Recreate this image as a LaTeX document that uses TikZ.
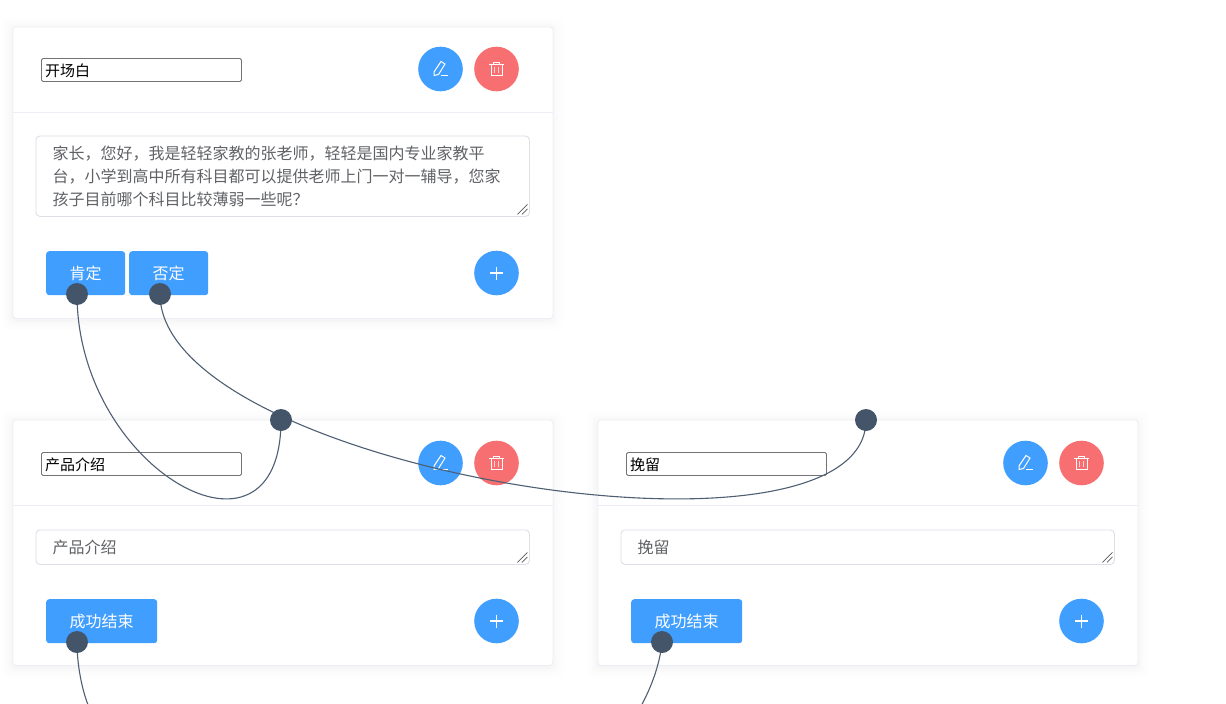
\documentclass[tikz,border=0pt]{standalone}
\usepackage{fontspec}
\setmainfont{Noto Sans CJK SC}
\usepackage{tikz}
\definecolor{eblue}{HTML}{409EFF}
\definecolor{ered}{HTML}{F76F70}
\definecolor{dotgray}{HTML}{445569}
\definecolor{linegray}{HTML}{4F5F73}
\definecolor{bordergray}{HTML}{EBEEF5}
\definecolor{areagray}{HTML}{DCDFE6}
\definecolor{areatext}{HTML}{606266}
\pgfdeclarelayer{cards}
\pgfdeclarelayer{links}
\pgfsetlayers{cards,links,main}
\tikzset{
  cardbox/.style={draw=bordergray,fill=white,rounded corners=3pt,line width=0.8pt,anchor=north west,inner sep=0pt},
  inputbox/.style={draw=black!55,fill=white,rounded corners=1.5pt,line width=0.9pt,anchor=north west,inner sep=0pt,minimum width=200pt,minimum height=23pt},
  inputtext/.style={anchor=west,inner sep=0pt,font=\fontsize{15}{15}\selectfont},
  areabox/.style={draw=areagray,fill=white,rounded corners=4pt,line width=0.9pt,anchor=north west,inner sep=0pt,minimum width=493.5pt},
  areatxt/.style={anchor=north west,inner sep=0pt,text=areatext,font=\fontsize{16}{23}\selectfont,align=left},
  btn/.style={fill=eblue,rounded corners=3pt,text=white,inner sep=0pt,minimum height=44pt,anchor=north west,font=\fontsize{16}{16}\selectfont},
  round/.style={circle,inner sep=0pt,minimum size=44.6pt},
  dot/.style={circle,fill=dotgray,inner sep=0pt,minimum size=22pt},
  link/.style={draw=linegray,line width=1.1pt},
  icon/.style={draw=white,line width=1pt}
}
% one card: #1 name, #2 left, #3 top, #4 height, #5 divider y, #6 area top, #7 area height, #8 header centre
\newcommand{\cardframe}[8]{
  \foreach \g/\o in {11/0.002,9/0.003,7/0.004,5/0.006,3/0.008,1/0.01}
    \fill[black,opacity=\o,rounded corners=6pt] (#2-\g,#3-\g+2) rectangle (#2+540+\g,#3+#4+\g+2);
  \node[cardbox,minimum width=540pt,minimum height=#4 pt] (#1) at (#2,#3) {};
  \draw[bordergray,line width=0.9pt] (#2,#5) -- (#2+540,#5);
  \node[inputbox] (#1input) at (#2+28.5,#8-11) {};
  \node[areabox,minimum height=#7 pt] (#1area) at (#2+23,#6) {};
  \node[round,fill=eblue] (#1edit) at (#2+428,#8) {};
  \node[round,fill=ered] (#1del) at (#2+484,#8) {};
  % pencil and bin
  \draw[icon] ([shift={(-6.5,3)}]#1edit.center) -- ++(7,-10.5) -- ++(4,2.5) -- ++(-6.5,10.5) -- ++(-4.5,1) -- cycle;
  \draw[icon] ([shift={(0,6.5)}]#1edit.center) -- ++(7,0);
  \draw[icon] ([shift={(-7.2,-4.7)}]#1del.center) -- ++(14.7,0);
  \draw[icon] ([shift={(-5.5,-4.7)}]#1del.center) -- ++(0,11.4) -- ++(11,0) -- ++(0,-11.4);
  \draw[icon] ([shift={(-2.8,-4.7)}]#1del.center) -- ++(0,-2.3) -- ++(5.6,0) -- ++(0,2.3);
  \draw[icon,white!70!ered,line width=1.4pt] ([shift={(-1.8,-2.3)}]#1del.center) -- ++(0,6);
  \draw[icon,white!70!ered,line width=1.4pt] ([shift={(1.8,-2.3)}]#1del.center) -- ++(0,6);
  % resize grip
  \draw[black!65,line width=0.7pt] ([shift={(-12.5,-2.5)}]#1area.south east) -- ++(10,-10);
  \draw[black!65,line width=0.7pt] ([shift={(-8,-2.5)}]#1area.south east) -- ++(5.5,-5.5);
}
% plus button
\newcommand{\plusbtn}[3]{
  \node[round,fill=eblue] (#1) at (#2,#3) {};
  \draw[icon,line width=1.1pt] ([xshift=-6.5pt]#1.center) -- ([xshift=6.5pt]#1.center);
  \draw[icon,line width=1.1pt] ([yshift=-6.5pt]#1.center) -- ([yshift=6.5pt]#1.center);
}
\begin{document}
\begin{tikzpicture}[x=1pt,y=-1pt]
    \useasboundingbox (0,0) rectangle (1226,704);

    \begin{pgfonlayer}{cards}
    \fill[white] (0,0) rectangle (1226,704);

    % opening card
    \cardframe{open}{12.5}{26.5}{291.5}{112.5}{135.5}{80.5}{69}
    \node[inputtext] (opentitle) at (45,70.5) {开场白};
    \node[areatxt] (opentext) at (52.5,145.5) {家长，您好，我是轻轻家教的张老师，轻轻是国内专业家教平\\台，小学到高中所有科目都可以提供老师上门一对一辅导，您家\\孩子目前哪个科目比较薄弱一些呢？};
    \node[btn,minimum width=79pt] (yes) at (46,251) {肯定};
    \node[btn,minimum width=79pt] (no) at (129,251) {否定};
    \plusbtn{openplus}{496.5}{273}

    % product card
    \cardframe{prod}{12.5}{419.5}{245.5}{505.5}{529.5}{34.5}{463}
    \node[inputtext] (prodtitle) at (45,464.5) {产品介绍};
    \node[areatxt] (prodtext) at (52.5,539.5) {产品介绍};
    \node[btn,minimum width=111pt] (prodok) at (46,599) {成功结束};
    \plusbtn{prodplus}{496.5}{621}

    % retain card
    \cardframe{keep}{597.5}{419.5}{245.5}{505.5}{529.5}{34.5}{463}
    \node[inputtext] (keeptitle) at (630,464.5) {挽留};
    \node[areatxt] (keeptext) at (637.5,539.5) {挽留};
    \node[btn,minimum width=111pt] (keepok) at (631,599) {成功结束};
    \plusbtn{keepplus}{1081.5}{621}
    \end{pgfonlayer}

    % end points
    \node[dot] (yesdot) at (77,294) {};
    \node[dot] (nodot) at (160,294) {};
    \node[dot] (prodin) at (281,420) {};
    \node[dot] (keepin) at (866,420) {};
    \node[dot] (prodout) at (77,642) {};
    \node[dot] (keepout) at (662,642) {};
    \coordinate (prodnext) at (88.5,706);
    \coordinate (keepnext) at (641,706);

    % links
    \begin{pgfonlayer}{links}
    \draw[link] (yesdot.center) .. controls (77,470) and (281,583) .. (prodin.center);
    \draw[link] (nodot.center) .. controls (160,470) and (866,583) .. (keepin.center);
    \draw[link] (prodout.center) .. controls (77,665) and (82,690) .. (prodnext);
    \draw[link] (keepout.center) .. controls (660,665) and (650,690) .. (keepnext);
    \end{pgfonlayer}
\end{tikzpicture}
\end{document}
